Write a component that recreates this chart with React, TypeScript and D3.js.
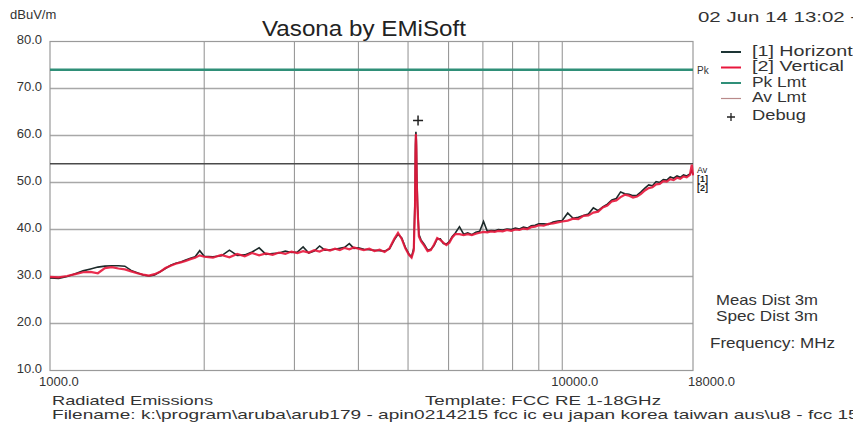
import React from "react";
import * as d3 from "d3";

const freqs = [
  1000, 1040, 1080, 1120, 1160, 1200, 1240, 1280, 1320, 1360, 1400, 1440, 1480, 1520, 1560, 1600, 1640, 1680, 1720, 1760, 1800, 1840, 1880, 1920, 1960, 2000,
  2080, 2160, 2240, 2320, 2400, 2480, 2560, 2640, 2720, 2800, 2880, 2960, 3040, 3120, 3200, 3280, 3360, 3440, 3520, 3600, 3680, 3760, 3840, 3920, 4000,
  4100, 4200, 4300, 4400, 4500, 4600, 4700, 4780, 4860, 4940, 5020, 5080, 5130, 5160, 5170, 5180, 5190, 5200, 5220, 5250, 5300, 5380, 5460, 5540, 5620, 5700, 5780, 5860, 5940, 6020, 6100, 6180,
  6300, 6420, 6540, 6660, 6780, 6900, 7020, 7140, 7260, 7380, 7500,
  7650, 7800, 7950, 8100, 8250, 8400, 8550, 8700, 8850, 9000,
  9200, 9400, 9600, 9800, 10000,
  10250, 10500, 10750, 11000, 11250, 11500, 11750, 12000, 12250, 12500, 12750, 13000, 13250, 13500, 13750, 14000, 14250, 14500, 14750, 15000, 15250, 15500, 15750, 16000, 16250, 16500, 16750, 17000, 17250, 17500, 17750, 17900, 18000,
];

const horizontal = [
  29.7, 29.6, 30.0, 30.6, 31.2, 31.6, 32.0, 32.2, 32.3, 32.3, 32.2, 31.3, 30.8, 30.3, 30.1, 30.3, 31.0, 31.7, 32.4, 32.8, 33.1, 33.5, 33.9, 34.2, 35.5, 34.3,
  34.2, 34.4, 35.6, 34.5, 34.6, 35.2, 36.1, 34.7, 34.9, 35.0, 35.4, 35.1, 35.2, 36.3, 35.0, 35.4, 36.5, 35.6, 35.7, 35.8, 36.0, 36.2, 37.0, 36.0, 36.1,
  35.8, 35.7, 35.6, 35.5, 35.4, 35.9, 37.8, 39.0, 38.2, 36.2, 34.8, 34.2, 36.0, 47.0, 58.0, 60.8, 59.0, 52.0, 45.0, 39.0, 37.8, 36.8, 35.6, 35.8, 36.6, 38.0, 38.0, 37.0, 36.9, 37.4, 38.5, 39.2,
  40.6, 39.0, 39.3, 38.9, 39.4, 39.6, 41.7, 39.6, 39.8, 39.7, 40.0,
  39.9, 40.1, 40.0, 40.3, 40.1, 40.5, 40.3, 40.8, 40.9, 41.2,
  41.2, 41.1, 41.6, 41.8, 41.9,
  43.5, 42.4, 42.6, 43.0, 43.3, 44.6, 44.0, 44.8, 45.4, 46.3, 46.6, 48.0, 47.6, 47.5, 47.2, 47.3, 48.0, 48.8, 49.5, 49.3, 50.2, 50.0, 50.6, 50.5, 51.2, 50.9, 51.4, 51.1, 51.6, 51.4, 51.8, 52.5, 51.7,
];

const vertical = [
  29.9, 29.8, 30.1, 30.5, 30.9, 31.0, 30.7, 31.8, 32.0, 31.7, 31.5, 31.1, 30.7, 30.4, 30.2, 30.5, 31.0, 31.8, 32.3, 32.7, 33.0, 33.3, 33.7, 34.0, 34.5, 34.2,
  34.0, 34.6, 34.1, 34.8, 34.3, 35.0, 34.5, 34.9, 34.6, 35.1, 34.8, 35.3, 35.0, 35.4, 35.1, 35.6, 35.3, 35.8, 35.5, 35.9, 35.6, 36.1, 35.8, 36.2, 35.9,
  35.6, 35.9, 35.4, 35.7, 35.2, 36.0, 38.0, 39.3, 38.0, 36.0, 34.6, 34.0, 35.5, 45.0, 56.0, 60.3, 57.5, 50.0, 44.0, 38.5, 37.5, 36.5, 35.4, 35.6, 36.8, 38.2, 37.8, 37.2, 36.7, 37.2, 38.3, 39.0,
  39.0, 38.8, 39.0, 38.8, 39.1, 39.3, 39.5, 39.4, 39.6, 39.5, 39.7,
  39.6, 39.9, 39.7, 40.0, 39.9, 40.2, 40.1, 40.5, 40.6, 40.9,
  40.8, 41.2, 41.3, 41.5, 41.7,
  41.9, 42.3, 42.2, 42.9, 43.0, 43.6, 43.8, 44.7, 45.1, 46.0, 46.2, 46.9, 47.4, 47.2, 46.8, 47.0, 47.6, 48.3, 48.8, 49.0, 49.6, 49.7, 50.3, 50.2, 50.7, 50.5, 51.0, 50.8, 51.3, 51.1, 51.6, 53.8, 51.5,
];

const pkLimit = 74;
const avLimit = 54;
const debugPoint = { freq: 5230, level: 63.2 };

const yTicks = [10, 20, 30, 40, 50, 60, 70, 80];
const xGridFreqs = [2000, 3000, 4000, 5000, 6000, 7000, 8000, 9000, 10000];
const xTickLabels = [
  { freq: 1000, label: "1000.0" },
  { freq: 10000, label: "10000.0" },
  { freq: 18000, label: "18000.0" },
];

const legendItems = [
  { label: "[1] Horizontal", color: "#1d3535", kind: "line", len: 116 },
  { label: "[2] Vertical", color: "#e8173c", kind: "line", len: 92 },
  { label: "Pk Lmt", color: "#2f8f78", kind: "line", len: 54 },
  { label: "Av Lmt", color: "#b98a8a", kind: "line", len: 54 },
  { label: "Debug", color: "#222", kind: "plus", len: 54 },
];

const FONT = "'Liberation Sans', Arial, sans-serif";

export default function App() {
  const W = 853;
  const H = 425;
  const left = 50,
    right = 693,
    top = 41.5,
    bottom = 370.5;
  const x = d3.scaleLog().domain([1000, 18000]).range([left, right]);
  const y = d3.scaleLinear().domain([10, 80]).range([bottom, top]);

  const pts = (vals: number[]) => freqs.map((f, i) => [f, vals[i]] as [number, number]);
  const line = d3
    .line<[number, number]>()
    .x((d) => x(d[0]))
    .y((d) => y(d[1]));

  const dx = x(debugPoint.freq);
  const dy = y(debugPoint.level);

  return (
    <svg
      width={W}
      height={H}
      style={{ position: "absolute", left: 0, top: 0, background: "#fff" }}
      fontFamily={FONT}
    >
      <rect x={0} y={0} width={W} height={H} fill="#fff" />
      {yTicks.slice(1, -1).map((t) => (
        <line key={"h" + t} x1={left} x2={right} y1={y(t)} y2={y(t)} stroke="#a8a8a8" strokeWidth={1.4} />
      ))}
      {xGridFreqs.map((f) => (
        <line key={"v" + f} x1={x(f)} x2={x(f)} y1={top} y2={bottom} stroke="#8f8f8f" strokeWidth={1} />
      ))}
      <rect x={left} y={top} width={right - left} height={bottom - top} fill="none" stroke="#9a9a9a" strokeWidth={1.2} />

      <line x1={left} x2={right} y1={y(pkLimit)} y2={y(pkLimit)} stroke="#2f8f78" strokeWidth={2.5} />
      <line x1={left} x2={right} y1={y(avLimit)} y2={y(avLimit)} stroke="#4a4a4a" strokeWidth={1.5} />

      <path d={line(pts(horizontal)) || ""} fill="none" stroke="#1d2a2a" strokeWidth={1.6} />
      <path d={line(pts(vertical)) || ""} fill="none" stroke="#e8173c" strokeWidth={2.2} opacity={0.9} />

      <path d={`M${dx - 5},${dy}H${dx + 5}M${dx},${dy - 5}V${dy + 5}`} stroke="#222" strokeWidth={1.5} />

      {yTicks.map((t) => (
        <text key={"yl" + t} x={42} y={y(t) - 1} fontSize={13} textAnchor="end" dominantBaseline="middle" fill="#333">
          {t.toFixed(1)}
        </text>
      ))}
      <text x={10} y={19} fontSize={13} fill="#333">dBuV/m</text>

      {xTickLabels.map((t, i) => (
        <text key={"xl" + t.freq} x={x(t.freq) - (i === 2 ? 5 : 11)} y={386} fontSize={13} fill="#333">
          {t.label}
        </text>
      ))}

      <text x={262} y={36} fontSize={22} textLength={204} lengthAdjust="spacingAndGlyphs" fill="#222">Vasona by EMiSoft</text>
      <text x={698} y={22} fontSize={14} textLength={166} lengthAdjust="spacingAndGlyphs" fill="#333">02 Jun 14 13:02 --</text>

      {legendItems.map((it, i) => {
        const ly = 52 + i * 15.5 + (i === 4 ? 2 : 0);
        return (
          <g key={it.label}>
            {it.kind === "line" ? (
              <line x1={721} x2={741} y1={ly} y2={ly} stroke={it.color} strokeWidth={it.label === "Av Lmt" ? 1.2 : 2} />
            ) : (
              <path d={`M${727},${ly + 1}H${735}M${731},${ly - 3}V${ly + 5}`} stroke={it.color} strokeWidth={1.3} />
            )}
            <text x={752} y={ly} fontSize={15} textLength={it.len} lengthAdjust="spacingAndGlyphs" dominantBaseline="middle" fill="#333">
              {it.label}
            </text>
          </g>
        );
      })}
      <text x={697} y={y(pkLimit) + 4} fontSize={10} fill="#333">Pk</text>
      <text x={697} y={y(avLimit) + 9} fontSize={9} fill="#222">Av</text>
      <text x={697} y={y(avLimit) + 18} fontSize={9} fontWeight="bold" fill="#222">[1]</text>
      <text x={697} y={y(avLimit) + 27} fontSize={9} fontWeight="bold" fill="#222">[2]</text>

      <text x={716} y={305} fontSize={15} textLength={102} lengthAdjust="spacingAndGlyphs" fill="#333">Meas Dist 3m</text>
      <text x={716} y={321} fontSize={15} textLength={102} lengthAdjust="spacingAndGlyphs" fill="#333">Spec Dist 3m</text>
      <text x={710} y={348} fontSize={15} textLength={125} lengthAdjust="spacingAndGlyphs" fill="#333">Frequency: MHz</text>

      <text x={52} y={405} fontSize={13} textLength={161} lengthAdjust="spacingAndGlyphs" fill="#333">Radiated Emissions</text>
      <text x={425} y={405} fontSize={13} textLength={236} lengthAdjust="spacingAndGlyphs" fill="#333">Template: FCC RE 1-18GHz</text>
      <text x={52} y={419} fontSize={13} textLength={812} lengthAdjust="spacingAndGlyphs" fill="#333">
        Filename: k:\program\aruba\arub179 - apin0214215 fcc ic eu japan korea taiwan aus\u8 - fcc 15.
      </text>
    </svg>
  );
}
